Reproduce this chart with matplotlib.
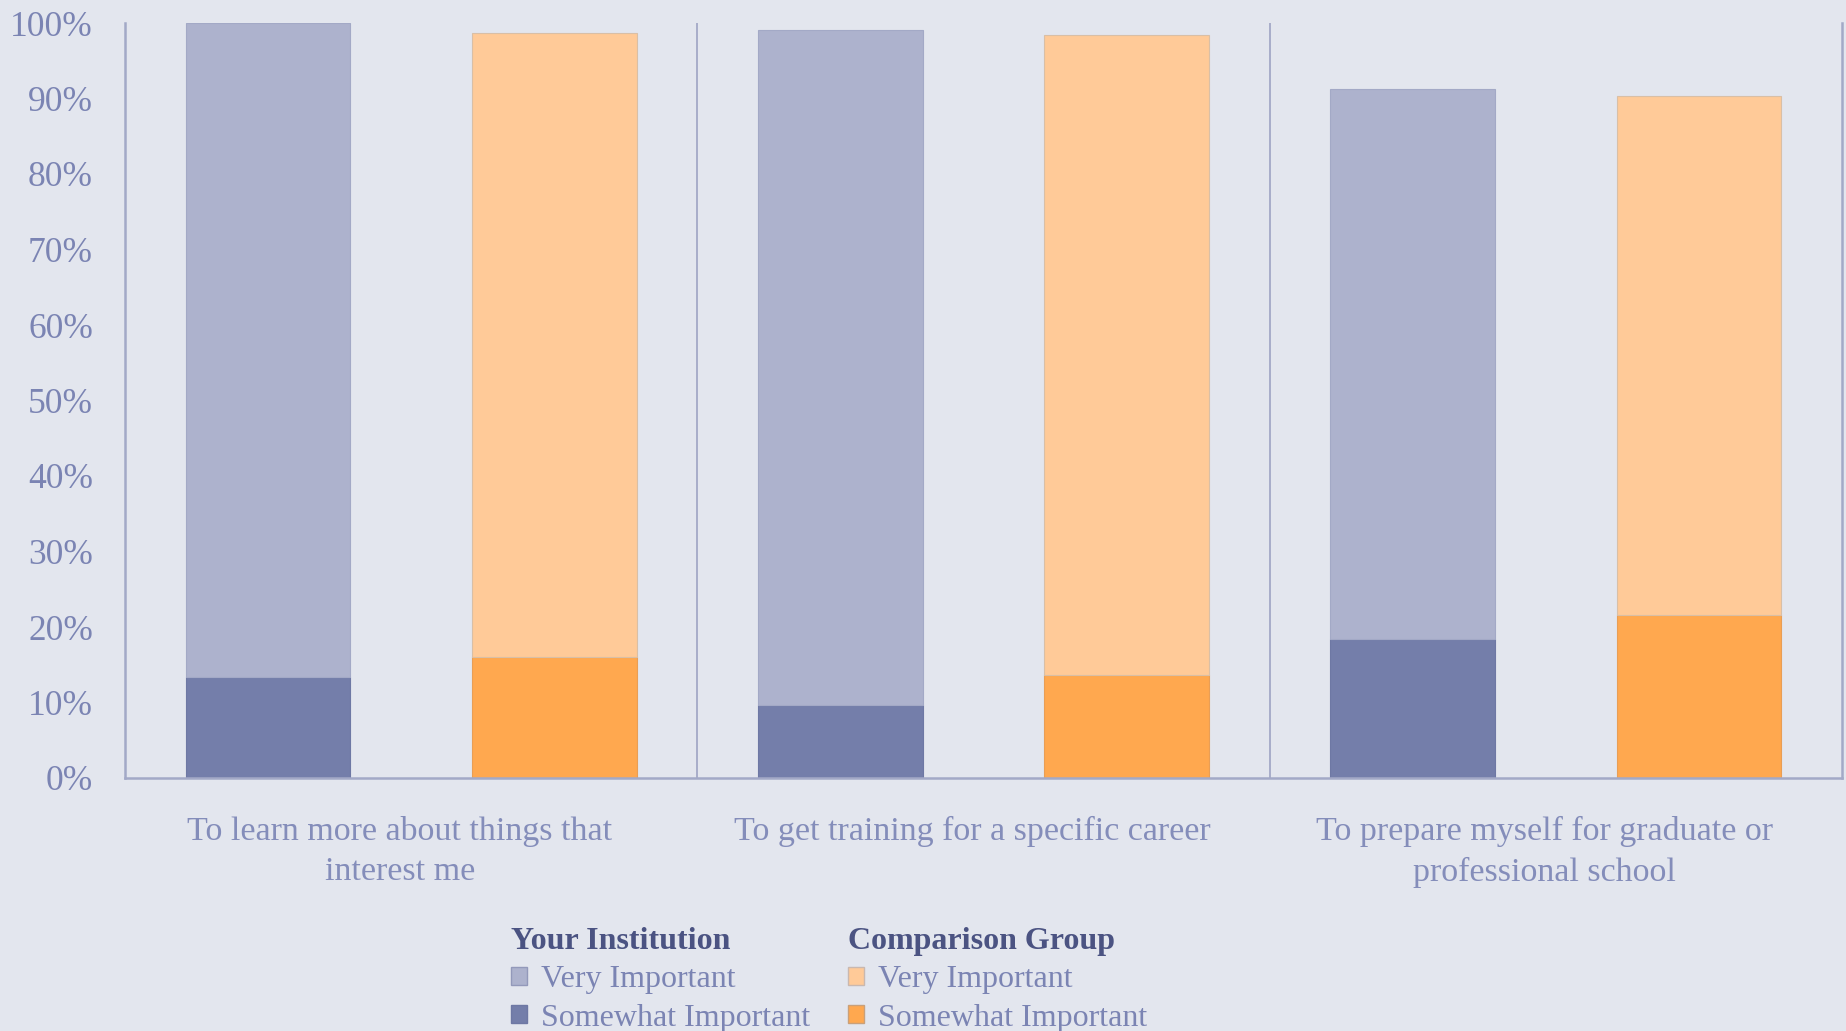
import numpy as np
import matplotlib
matplotlib.use("Agg")
import matplotlib.pyplot as plt
from matplotlib.patches import Patch

# Share of respondents (%) rating each reason for attending college
reasons = [
    "To learn more about things that\ninterest me",
    "To get training for a specific career",
    "To prepare myself for graduate or\nprofessional school",
]
inst_somewhat = [13.4, 9.7, 18.4]
inst_very = [86.6, 89.4, 72.8]
comp_somewhat = [16.0, 13.7, 21.6]
comp_very = [82.7, 84.7, 68.7]

BG = "#E3E6EE"
INST_VERY = "#ADB2CD"
INST_SOME = "#747EAA"
COMP_VERY = "#FFCA98"
COMP_SOME = "#FFA84F"
AXIS = "#A3A9C7"
TICK_TXT = "#7B84B3"
CAT_TXT = "#848DBA"
TITLE_TXT = "#4B5382"

plt.rcParams["font.family"] = ["Liberation Serif", "DejaVu Serif"]

fig = plt.figure(figsize=(18.46, 10.31), dpi=100, facecolor=BG)
ax = fig.add_axes([125 / 1846, 1 - 778 / 1031, (1842 - 125) / 1846, (778 - 23) / 1031])
ax.set_facecolor(BG)

x = np.arange(len(reasons))
off, w = 0.25, 0.288

ax.bar(x - off, inst_somewhat, w, color=INST_SOME, edgecolor="#6E78A4", linewidth=0.8)
ax.bar(x - off, inst_very, w, bottom=inst_somewhat, color=INST_VERY,
       edgecolor="#A3A9C6", linewidth=0.8)
ax.bar(x + off, comp_somewhat, w, color=COMP_SOME, edgecolor="#E99E55", linewidth=0.8)
ax.bar(x + off, comp_very, w, bottom=comp_somewhat, color=COMP_VERY,
       edgecolor="#D9BFA6", linewidth=0.8)

# group separators
for d in [0.5, 1.5]:
    ax.axvline(d, ymin=0, ymax=1, color=AXIS, linewidth=1.3)

ax.set_xlim(-0.5, 2.5)
ax.set_ylim(0, 100)
ax.set_yticks(np.arange(0, 101, 10))
ax.set_yticklabels([f"{v}%" for v in range(0, 101, 10)])
ax.tick_params(axis="y", length=0, pad=23, labelsize=25.5, labelcolor=TICK_TXT)
ax.set_xticks([])

for s in ["left", "right", "bottom"]:
    ax.spines[s].set_color(AXIS)
    ax.spines[s].set_linewidth(1.8)
ax.spines["top"].set_visible(False)

for i, r in enumerate(reasons):
    ax.text(i - 0.02, -5.0, r, ha="center", va="top", fontsize=24.5,
            color=CAT_TXT, linespacing=1.4, transform=ax.transData)

# legends
inst_handles = [Patch(facecolor=INST_VERY, edgecolor="#9399BA", label="Very Important"),
                Patch(facecolor=INST_SOME, edgecolor="#6E78A4", label="Somewhat Important")]
comp_handles = [Patch(facecolor=COMP_VERY, edgecolor="#C9B8B0", label="Very Important"),
                Patch(facecolor=COMP_SOME, edgecolor="#C9A07A", label="Somewhat Important")]

common = dict(frameon=False, fontsize=23, handlelength=0.5, handleheight=0.5,
              handletextpad=0.45, labelspacing=0.29, borderpad=0, borderaxespad=0,
              labelcolor=TICK_TXT, alignment="left",
              title_fontproperties={"weight": "bold", "size": 23})
leg1 = fig.legend(handles=inst_handles, title="Your Institution",
                  loc="upper left", bbox_to_anchor=(511 / 1846, 1 - 927 / 1031), **common)
leg1.get_title().set_color(TITLE_TXT)
leg2 = fig.legend(handles=comp_handles, title="Comparison Group",
                  loc="upper left", bbox_to_anchor=(848 / 1846, 1 - 927 / 1031), **common)
leg2.get_title().set_color(TITLE_TXT)

fig.savefig("out.png", dpi=100, facecolor=BG)
